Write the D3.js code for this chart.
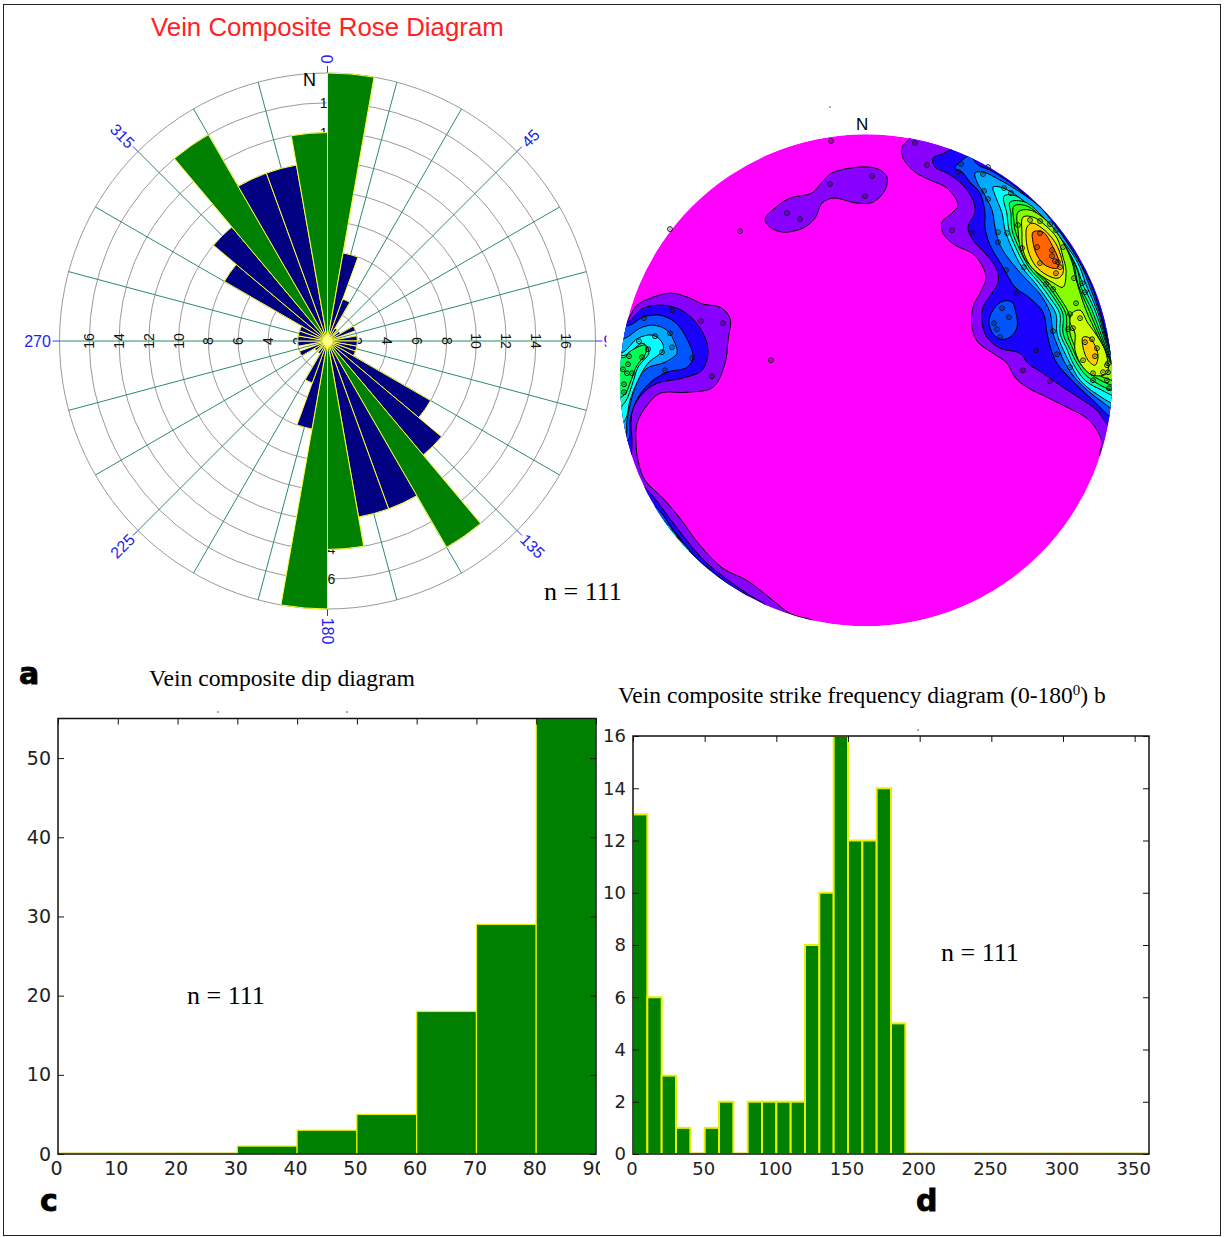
<!DOCTYPE html>
<html><head><meta charset="utf-8">
<script src="https://cdn.jsdelivr.net/npm/d3@7"></script>
<style>html,body{margin:0;padding:0;background:#fff}svg{display:block}</style>
</head><body><svg id="c" width="1225" height="1237"></svg>
<script>
// ---------- data ----------
const roseBinWidth = 10;
const roseCounts = [18,6,3,1,0,1,2,0,2,2,2,2,8,10,16,12,12,14,18,6,3,1,0,1,2,0,2,2,2,2,8,10,16,12,12,14];
const roseRings = [2,4,6,8,10,12,14,16,18];
const roseRingLabels = [2,4,6,8,10,12,14,16];
const roseSpokes = d3.range(0,360,15);
const roseDegreeLabels = [0,45,90,135,180,225,270,315];
const dipBins = [0,10,20,30,40,50,60,70,80];
const dipCounts = [0,0,0,1,3,5,18,29,55];
const dipZeroBins = [0,10,20];
const dipXTicks = [0,10,20,30,40,50,60,70,80,90];
const dipYTicks = [0,10,20,30,40,50];
const strikeBins = [0,10,20,30,40,50,60,70,80,90,100,110,120,130,140,150,160,170,180];
const strikeCounts = [13,6,3,1,0,1,2,0,2,2,2,2,8,10,16,12,12,14,5];
const strikeZeroBins = [40,70,190,200,210,220,230,240,250,260,270,280,290,300,310,320,330,340,350];
const strikeXTicks = [0,50,100,150,200,250,300,350];
const strikeYTicks = [0,2,4,6,8,10,12,14,16];

// stereonet contour levels, in net units (0-492 across the net)
const levelColors = ["#8800ff","#1a00ff","#0055ff","#00aaff","#00ffff","#00ffaa","#00ff55","#33ff00","#88ff00","#ccff00","#ffcc00","#ff6600"];
const contourL1 = [
 [[290,4],[282,13],[283,24],[295,38],[310,46],[327,54],[338,71],[332,79],[322,88],[323,99],[335,111],[352,119],[362,131],[366,144],[360,159],[353,173],[352,193],[358,208],[373,219],[387,229],[395,243],[407,253],[427,263],[447,273],[467,284],[477,296],[482,308],[480,322],[510,322],[510,-10],[290,-10]],
 [[145,85],[155,74],[170,64],[192,59],[202,48],[212,39],[240,33],[258,35],[267,43],[265,56],[253,68],[237,69],[213,64],[202,69],[195,84],[183,94],[163,98],[150,93]],
 [[-10,195],[5,189],[17,171],[33,163],[52,159],[70,164],[83,170],[100,173],[110,184],[108,206],[105,229],[93,253],[67,258],[40,259],[27,271],[17,289],[16,309],[18,326],[25,346],[43,364],[60,384],[80,411],[103,434],[127,446],[153,466],[170,479],[197,489],[197,505],[-10,505]]
];
const contourL2 = [
 [[337,10],[322,20],[313,24],[315,33],[327,39],[343,51],[353,66],[355,78],[348,93],[353,106],[367,121],[377,136],[378,148],[372,159],[363,173],[362,188],[367,203],[380,214],[400,219],[408,229],[423,239],[443,253],[460,264],[477,276],[490,292],[510,292],[510,-10],[337,-10]],
 [[-10,190],[7,188],[23,174],[40,171],[57,174],[72,184],[85,203],[88,219],[82,236],[62,244],[37,249],[23,259],[13,274],[11,289],[12,309],[8,330],[-10,330]],
 [[22,352],[33,362],[43,375],[55,391],[70,410],[85,427],[107,445],[127,459],[147,473],[120,480],[60,440],[25,385]]
];
const contourL3 = [
 [[340,28],[335,34],[342,38],[350,48],[360,59],[365,79],[365,93],[370,111],[383,133],[395,153],[410,164],[423,178],[427,199],[431,215],[437,229],[452,246],[472,265],[496,285],[496,240],[487,203],[480,177],[471,150],[458,125],[442,100],[424,78],[407,62],[389,48],[370,36],[358,31],[350,22]],
 [[375,173],[383,167],[392,168],[396,179],[397,193],[390,203],[380,205],[372,198],[369,186]],
 [[-10,195],[10,191],[23,183],[40,181],[55,188],[65,201],[73,223],[67,233],[47,238],[33,246],[23,256],[15,269],[10,286],[8,306],[-10,306]],
 [[34,372],[44,382],[52,394],[65,410],[78,425],[92,437],[110,451],[128,463],[110,470],[60,430],[30,385]]
];
const contourL4 = [
 [[355,39],[357,48],[363,58],[372,76],[375,93],[380,111],[392,129],[407,146],[420,160],[430,178],[433,199],[439,215],[445,229],[457,246],[480,266],[496,275],[496,240],[486,203],[479,177],[470,153],[461,131],[450,113],[434,90],[420,73],[400,58],[380,46],[363,38]],
 [[-10,205],[5,204],[20,194],[33,191],[47,196],[55,209],[57,219],[45,228],[27,234],[18,246],[12,263],[7,286],[5,303],[-10,303]],
 [[42,386],[48,390],[57,401],[66,413],[77,425],[88,436],[70,435],[40,400]]
];
const contourL5 = [
 [[373,53],[375,61],[382,79],[385,96],[392,114],[402,133],[416,150],[427,165],[436,180],[437,199],[443,215],[450,229],[460,246],[477,260],[496,269],[496,240],[485,203],[477,176],[467,153],[458,129],[446,111],[427,89],[408,71],[393,59],[380,53]],
 [[-10,220],[3,218],[18,204],[33,201],[42,208],[43,216],[28,229],[18,246],[10,266],[5,286],[-10,296]],
 [[50,395],[54,398],[59,405],[66,412],[70,417],[58,412],[46,398]]
];
const contourL6 = [
 [[384,62],[387,80],[389,96],[396,114],[406,133],[420,150],[431,165],[440,180],[440,199],[447,215],[453,229],[465,246],[480,255],[496,261],[496,240],[489,219],[483,200],[475,176],[464,153],[455,129],[443,110],[430,92],[415,78],[396,62]],
 [[-10,222],[5,221],[23,209],[29,218],[18,233],[12,251],[5,268],[-10,280]]
];
const contourL7 = [
 [[390,68],[391,80],[392,96],[399,114],[409,133],[423,149],[434,164],[443,180],[443,199],[450,215],[457,229],[468,243],[496,256],[496,240],[488,219],[481,200],[472,176],[461,153],[458,138],[449,118],[436,98],[422,82],[405,68]],
 [[-10,224],[5,223],[9,218],[25,211],[26,218],[16,233],[10,249],[4,261],[-10,265]]
];
const contourL8 = [
 [[394,72],[394,88],[395,96],[402,114],[412,133],[426,149],[437,164],[446,180],[447,199],[453,215],[460,229],[472,241],[496,251],[496,240],[487,219],[479,200],[469,176],[458,150],[453,128],[441,108],[425,87],[407,72]]
];
const contourL9 = [
 [[398,78],[398,96],[400,112],[405,125],[415,136],[429,149],[440,164],[449,180],[450,199],[456,215],[463,229],[477,240],[496,246],[496,240],[486,219],[477,200],[466,176],[456,145],[452,128],[443,108],[428,88],[410,76]]
];
const contourL10 = [
 [[403,83],[413,83],[425,91],[437,104],[443,123],[446,136],[443,153],[432,148],[418,139],[410,131],[403,116],[402,99]],
 [[452,179],[460,176],[468,189],[478,203],[486,219],[487,239],[473,241],[463,233],[455,216],[455,199],[450,188]]
];
const contourL11 = [
 [[407,93],[412,89],[422,94],[435,108],[442,126],[443,139],[438,144],[427,141],[415,131],[408,116],[406,101]],
 [[463,203],[470,204],[478,221],[475,231],[468,226],[463,213]]
];
const contourL12 = [
 [[413,98],[423,98],[433,113],[439,128],[437,134],[425,131],[417,121],[413,108]]
];
const contourLevels = [contourL1,contourL2,contourL3,contourL4,contourL5,contourL6,contourL7,contourL8,contourL9,contourL10,contourL11,contourL12];

const poles = [[211,7],[167,79],[180,85],[210,50],[252,42],[245,62],[295,9],[307,31],[50,95],[120,97],[151,226],
[341,30],[338,38],[368,33],[363,40],[364,57],[368,65],[384,54],[391,59],[332,96],[352,99],[378,98],[387,99],[378,108],[386,136],[396,159],[382,174],[389,183],[374,189],[377,195],[380,203],[416,216],[403,236],[430,247],[433,197],[437,220],[450,233],[448,195],[453,194],[450,180],[456,169],[465,158],[462,149],[454,144],[433,155],[426,150],[404,133],[402,114],[398,91],[410,86],[420,87],[430,90],[436,96],[443,113],[420,99],[417,113],[432,116],[432,122],[435,127],[420,129],[438,128],[440,133],[436,139],[465,208],[460,184],[472,205],[477,214],[475,222],[483,238],[473,239],[463,226],[473,246],[487,231],[488,238],[487,246],[489,254],[488,229],
[52,176],[24,184],[81,187],[103,189],[50,199],[35,202],[52,213],[28,215],[42,218],[19,207],[72,224],[22,223],[9,222],[8,230],[45,236],[92,242],[7,239],[12,239],[4,250],[4,258],[3,235]];
// stray specks in the original scan: page pixel positions
const specks = [[218,712],[347,712],[918,730],[830,107]];

// ---------- layout ----------
const svg = d3.select("#c");
const defs = svg.append("defs");
svg.append("rect").attr("x",3.5).attr("y",4.5).attr("width",1217).attr("height",1231).attr("fill","#fff").attr("stroke","#222").attr("stroke-width",1);

const serif = "'Liberation Serif',serif", sans = "'Liberation Sans',sans-serif", dejavu = "'DejaVu Sans',sans-serif";
function label(t,x,y,size,fam,fill,extra){
  const n = svg.append("text").attr("x",x).attr("y",y).attr("font-size",size).attr("font-family",fam).attr("fill",fill||"#000").text(t);
  if(extra) extra(n);
  return n;
}

// ---------- rose ----------
const cx = 327.5, cy = 341;
const rR = d3.scaleLinear().domain([0,18]).range([0,268]);
const rose = svg.append("g").attr("transform",`translate(${cx},${cy})`);
const rad = d => d*Math.PI/180;
const polar = (deg,r) => [r*Math.sin(rad(deg)), -r*Math.cos(rad(deg))];
rose.selectAll("circle.ring").data(roseRings).join("circle").attr("class","ring").attr("r",d=>rR(d))
  .attr("fill","none").attr("stroke","#9a9a9a").attr("stroke-width",1);
rose.selectAll("line.sp").data(roseSpokes).join("line").attr("class","sp")
  .attr("x1",0).attr("y1",0).attr("x2",d=>polar(d,rR(18))[0]).attr("y2",d=>polar(d,rR(18))[1])
  .attr("stroke","#2e8b68").attr("stroke-width",1);
rose.selectAll("line.tk").data(roseDegreeLabels).join("line").attr("class","tk")
  .attr("x1",d=>polar(d,rR(18))[0]).attr("y1",d=>polar(d,rR(18))[1])
  .attr("x2",d=>polar(d,rR(18)+7)[0]).attr("y2",d=>polar(d,rR(18)+7)[1])
  .attr("stroke","#3333ff").attr("stroke-width",1);
// ring value labels along the four axes
[[0,0],[90,90],[180,0],[270,-90]].forEach(([az,rot])=>{
  rose.selectAll(null).data(roseRingLabels).join("text")
    .attr("transform",d=>{const p=polar(az,rR(d));return `translate(${p[0]},${p[1]}) rotate(${rot})`;})
    .attr("text-anchor","middle").attr("dy","0.36em").attr("font-family",sans).attr("font-size",14).attr("fill","#111")
    .text(d=>d);
});
// degree labels
defs.append("clipPath").attr("id","degClip").append("rect").attr("x",-cx).attr("y",-cy).attr("width",cx+279).attr("height",1000);
const degRot = {0:-90,45:-45,90:0,135:45,180:90,225:-45,270:0,315:45};
const degPad = {0:14,45:19,90:17,135:22,180:22,225:22,270:22,315:22};
rose.append("g").attr("clip-path","url(#degClip)").selectAll("text").data(roseDegreeLabels).join("text")
  .attr("transform",d=>{const p=polar(d,rR(18)+degPad[d]);return `translate(${p[0]},${p[1]}) rotate(${degRot[d]})`;})
  .attr("text-anchor","middle").attr("dy","0.36em").attr("font-family",sans).attr("font-size",16).attr("fill","#2222ee")
  .text(d=>d);
// bars
const arc = d3.arc().innerRadius(0);
rose.selectAll("path.bar").data(roseCounts.map((v,i)=>({v,i}))).join("path").attr("class","bar")
  .attr("d",d=>arc({outerRadius:rR(d.v),startAngle:rad(d.i*roseBinWidth),endAngle:rad((d.i+1)*roseBinWidth)}))
  .attr("fill",d=>d.v>=14?"#008000":"#000080").attr("stroke","#ffff33").attr("stroke-width",1);
rose.append("circle").attr("r",5).attr("fill","#ffff88");
label("N",303,86,18,sans);
label("Vein Composite Rose Diagram",151,35.5,25.8,sans,"#ff2222");
label("n = 111",544,600,26,serif);
label("a",19,684,30,dejavu,"#000",n=>n.attr("font-weight","bold").attr("stroke","#000").attr("stroke-width",0.8));

// ---------- stereonet ----------
const netX = d3.scaleLinear().domain([0,492]).range([620,1112]);
const netY = d3.scaleLinear().domain([0,492]).range([134,626.5]);
defs.append("clipPath").attr("id","netClip").append("circle").attr("cx",netX(246)).attr("cy",netY(246)).attr("r",netX(246)-netX(0));
const net = svg.append("g");
const clipped = net.append("g").attr("clip-path","url(#netClip)");
clipped.append("circle").attr("cx",netX(246)).attr("cy",netY(246)).attr("r",netX(246)-netX(0)).attr("fill","#ff00ff");
const contourLine = d3.line().x(d=>netX(d[0])).y(d=>netY(d[1])).curve(d3.curveCatmullRomClosed.alpha(0.5));
contourLevels.forEach((polys,i)=>{
  clipped.selectAll(null).data(polys).join("path").attr("d",contourLine)
    .attr("fill",levelColors[i]).attr("stroke","#000").attr("stroke-width",1);
});
net.selectAll("circle.pole").data(poles).join("circle").attr("class","pole")
  .attr("cx",d=>netX(d[0])).attr("cy",d=>netY(d[1])).attr("r",2.4)
  .attr("fill","none").attr("stroke","#111").attr("stroke-width",1);
net.selectAll("circle.poled").data(poles).join("circle").attr("class","poled")
  .attr("cx",d=>netX(d[0])).attr("cy",d=>netY(d[1])).attr("r",0.7).attr("fill","#111");
label("N",856,130,17,sans);

// ---------- histograms ----------
function hist(o){
  const x = d3.scaleLinear().domain(o.xDomain).range([o.left,o.right]);
  const y = d3.scaleLinear().domain(o.yDomain).range([o.bottom,o.top]);
  const id = o.id;
  defs.append("clipPath").attr("id",id).append("rect").attr("x",o.left).attr("y",o.top).attr("width",o.right-o.left).attr("height",o.bottom-o.top);
  const g = svg.append("g");
  const bars = g.append("g").attr("clip-path",`url(#${id})`);
  bars.selectAll("rect").data(o.bins.map((b,i)=>({b,v:o.counts[i]})).filter(d=>d.v>0)).join("rect")
    .attr("x",d=>x(d.b)).attr("width",d=>x(d.b+o.bw)-x(d.b))
    .attr("y",d=>y(d.v)).attr("height",d=>y(0)-y(d.v))
    .attr("fill","#008000").attr("stroke","#e8f000").attr("stroke-width",o.edge);
  bars.selectAll("line").data(o.zeroBins).join("line")
    .attr("x1",d=>x(d)).attr("x2",d=>x(d+o.bw)).attr("y1",y(0)-1.2).attr("y2",y(0)-1.2).attr("stroke","#d8d860").attr("stroke-width",1);
  const ax = d3.axisBottom(x).tickValues(o.xTicks).tickSizeInner(-6).tickSizeOuter(0).tickPadding(8);
  const ay = d3.axisLeft(y).tickValues(o.yTicks).tickSizeInner(-6).tickSizeOuter(0).tickPadding(o.yPad);
  const axT = d3.axisTop(x).tickValues(o.xTicks).tickSizeInner(-6).tickSizeOuter(0).tickFormat("");
  const ayR = d3.axisRight(y).tickValues(o.yTicks).tickSizeInner(-6).tickSizeOuter(0).tickFormat("");
  const style = s => { s.selectAll("text").attr("font-family",dejavu).attr("font-size",o.font).attr("fill","#222");
                       s.selectAll(".tick line").attr("stroke","#111"); s.select(".domain").attr("stroke","none"); };
  defs.append("clipPath").attr("id",id+"t").append("rect").attr("x",0).attr("y",0).attr("width",o.labelClip).attr("height",1237);
  g.append("g").attr("transform",`translate(0,${o.bottom})`).attr("clip-path",`url(#${id}t)`).call(ax).call(style)
    .selectAll("text").attr("dx",o.xShift);
  g.append("g").attr("transform",`translate(${o.left},0)`).call(ay).call(style);
  g.append("g").attr("transform",`translate(0,${o.top})`).call(axT).call(style);
  g.append("g").attr("transform",`translate(${o.right},0)`).call(ayR).call(style);
  g.append("rect").attr("x",o.left).attr("y",o.top).attr("width",o.right-o.left).attr("height",o.bottom-o.top)
    .attr("fill","none").attr("stroke","#111").attr("stroke-width",1.5);
}
hist({id:"dip",xDomain:[0,90],yDomain:[0,55],left:58,right:596,top:718.5,bottom:1154,bins:dipBins,counts:dipCounts,zeroBins:dipZeroBins,bw:10,edge:1.2,
  xTicks:dipXTicks,yTicks:dipYTicks,font:19,yPad:7,labelClip:600,xShift:-2});
hist({id:"strike",xDomain:[0,360],yDomain:[0,16],left:633,right:1149,top:736,bottom:1154,bins:strikeBins,counts:strikeCounts,zeroBins:strikeZeroBins,bw:10,edge:2,
  xTicks:strikeXTicks,yTicks:strikeYTicks,font:18,yPad:7,labelClip:1225,xShift:-1.5});

svg.selectAll("circle.speck").data(specks).join("circle").attr("class","speck")
  .attr("cx",d=>d[0]).attr("cy",d=>d[1]).attr("r",0.8).attr("fill","#444");

label("Vein composite dip diagram",149,686,23.65,serif);
const st = label("Vein composite strike frequency diagram (0-180",618,703,23.5,serif);
st.append("tspan").attr("dy",-8).attr("font-size",15).text("0");
st.append("tspan").attr("dy",8).text(") b");
label("n = 111",187,1004,26,serif);
label("n = 111",941,961,26,serif);
label("c",40,1211,30,dejavu,"#000",n=>n.attr("font-weight","bold").attr("stroke","#000").attr("stroke-width",0.8));
label("d",916,1211,30,dejavu,"#000",n=>n.attr("font-weight","bold").attr("stroke","#000").attr("stroke-width",0.8));
</script></body></html>
